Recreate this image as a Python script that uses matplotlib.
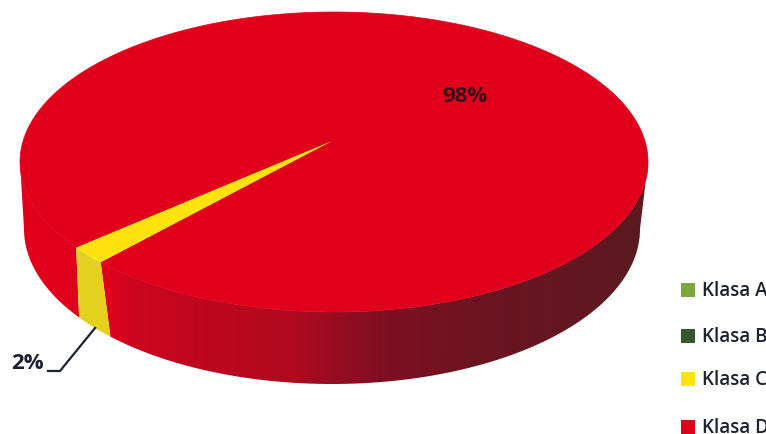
import numpy as np
import matplotlib.pyplot as plt
from matplotlib.patches import Polygon
from matplotlib.colors import LinearSegmentedColormap

labels = ["Klasa A", "Klasa B", "Klasa C", "Klasa D"]
shares = [0, 0, 2, 98]
colors = ["#7aa83c", "#35592f", "#ffe30f", "#e0001b"]
yellow_side = "#e3d01f"
side_stops = [(0.0, "#e0021c"), (0.05, "#e0021c"), (0.09, "#cc051f"), (0.38, "#ae0a20"), (0.53, "#7f1020"),
              (0.72, "#6b1420"), (1.0, "#5c1a20")]

# top rim and bottom rim of the disc, in image pixels
top = (334, 163, 314, 150)
bottom = (332, 230, 308, 155)
apex = np.array([332, 142])
start = 138.0  # angle where Klasa C starts


def rim(ell, t):
    t = np.radians(t)
    return np.column_stack([ell[0] + ell[2] * np.cos(t), ell[1] + ell[3] * np.sin(t)])


fig = plt.figure(figsize=(7.66, 4.35), dpi=100)
ax = fig.add_axes([0, 0, 1, 1])

# wedge angles from the shares
sweep = np.array(shares) / sum(shares) * 360
c_from, c_to = start, start + sweep[2]

# wall right of the yellow slice, dark towards the right
wall = np.vstack([rim(top, np.linspace(0, c_from, 200)), rim(bottom, np.linspace(c_from - 2, 0, 200))])
cmap = LinearSegmentedColormap.from_list("wall", side_stops)
grad = np.linspace(0, 1, 512).reshape(1, -1)
im = ax.imshow(grad, extent=[80, 648, 435, 0], cmap=cmap, aspect="auto", zorder=1)
im.set_clip_path(Polygon(wall, transform=ax.transData))

# wall left of the yellow slice has the colour of the top
left = np.vstack([rim(top, np.linspace(c_to, 180, 80)), rim(bottom, np.linspace(180, c_to, 80))])
ax.add_patch(Polygon(left, fc=colors[3], ec="none", zorder=1))

# yellow wall
c_t = np.linspace(c_from, c_to, 20)
c_wall = np.vstack([rim(top, c_t), rim(bottom, np.linspace(c_to, c_from - 2, 20))])
ax.add_patch(Polygon(c_wall, fc=yellow_side, ec="none", zorder=2))

# top face, Klasa D goes the long way round
d_t = np.linspace(c_to, c_from + 360, 400)
ax.add_patch(Polygon(np.vstack([apex, rim(top, d_t)]), fc=colors[3], ec=colors[3], lw=0.5, zorder=3))
ax.add_patch(Polygon(np.vstack([apex, rim(top, c_t)]), fc=colors[2], ec="none", zorder=4))

# value labels
ax.text(465, 97, "98%", fontsize=16, fontweight="bold", family="Open Sans", color="#3a1018",
        ha="center", va="center", zorder=5)
ax.text(27, 364, "2%", fontsize=16, fontweight="bold", family="Open Sans", color="#1c2230",
        ha="center", va="center", zorder=5)
ax.plot([95, 60, 48], [329, 372, 372], color="#1c2230", lw=1.6, zorder=5)

# legend, cut by the right edge like the original
legend_y = [291, 337, 380, 428]
for name, col, y in zip(labels, colors, legend_y):
    ax.scatter([688], [y], marker="s", s=90, color=col, linewidths=0, zorder=5)
    ax.text(702, y, name, fontsize=13.5, family="Open Sans", fontweight="semibold", color="#1c2230",
            ha="left", va="center", zorder=5)

ax.set_xlim(0, 766)
ax.set_ylim(435, 0)
ax.axis("off")

fig.savefig("out.png", dpi=100)
